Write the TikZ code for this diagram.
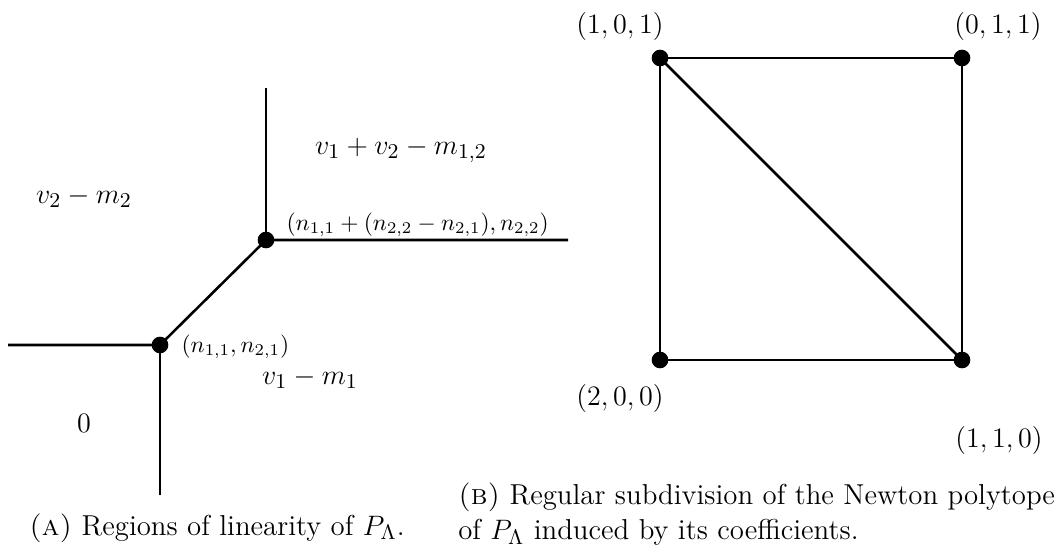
\documentclass[tikz,border=0pt]{standalone}
\usepackage{amsmath}
\usetikzlibrary{calc}

\begin{document}
\begin{tikzpicture}[x=0.015cm, y=-0.015cm, line width=1.1pt]
  \tikzset{
    vertexdot/.style={circle, fill=black, inner sep=0pt, minimum size=0.25cm},
    biglabel/.style={font=\fontsize{13.2}{16}\selectfont},
    smalllabel/.style={font=\fontsize{10}{12}\selectfont, inner sep=1pt},
    captiontext/.style={font=\fontsize{12.3}{14.9}\selectfont, inner sep=0pt}
  }
  \useasboundingbox (0,0) rectangle (1064,547);

  % (a) tropical curve
  \node[vertexdot] (P) at (160,345) {};
  \node[vertexdot] (Q) at (266,240) {};
  \coordinate (Pl) at (8,345);
  \coordinate (Pd) at (160,495);
  \coordinate (Qu) at (266,88);
  \coordinate (Qr) at (568,240);

  \draw (Pl) -- (P.center) -- (Q.center) -- (Qr);
  \draw (Pd) -- (P.center);
  \draw (Qu) -- (Q.center);

  \node[smalllabel, anchor=west] (lP) at (178,347) {$(n_{1,1},n_{2,1})$};
  \node[smalllabel, anchor=west] (lQ) at (283,225) {$(n_{1,1}+(n_{2,2}-n_{2,1}),n_{2,2})$};

  \node[biglabel] (r12) at (401,150) {$v_1+v_2-m_{1,2}$};
  \node[biglabel] (r2) at (84,197) {$v_2-m_2$};
  \node[biglabel] (r1) at (310,378) {$v_1-m_1$};
  \node[biglabel] (r0) at (84,423) {$0$};

  \node[captiontext] (capA) at (217,528) {\textsc{(a)} Regions of linearity of $P_\Lambda$.};

  % (b) subdivision of the Newton polytope
  \node[vertexdot] (A) at (660,58) {};
  \node[vertexdot] (B) at (962,58) {};
  \node[vertexdot] (C) at (660,360) {};
  \node[vertexdot] (D) at (962,360) {};

  \draw (A.center) -- (B.center) -- (D.center) -- (C.center) -- cycle;
  \draw (A.center) -- (D.center);

  \node[biglabel] (lA) at (620,26) {$(1,0,1)$};
  \node[biglabel] (lB) at (998,26) {$(0,1,1)$};
  \node[biglabel] (lC) at (620,398) {$(2,0,0)$};
  \node[biglabel] (lD) at (999,440) {$(1,1,0)$};

  \node[captiontext, anchor=north west, align=left] (capB) at (457,482)
    {\textsc{(b)} Regular subdivision of the Newton polytope\\ of $P_\Lambda$ induced by its coefficients.};
\end{tikzpicture}
\end{document}
